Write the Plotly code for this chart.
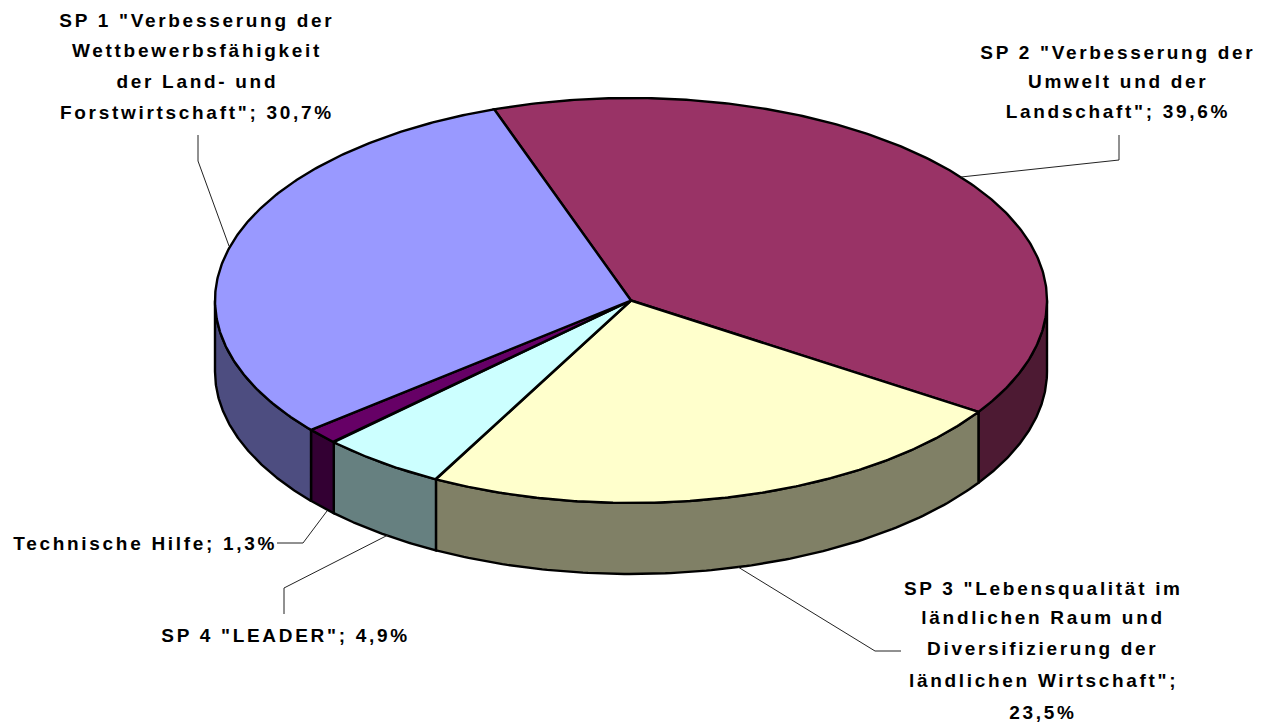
import numpy as np
import plotly.graph_objects as go

# Data (clockwise from the pie's start angle)
categories = ['SP 2', 'SP 3', 'SP 4', 'Technische Hilfe', 'SP 1']
values = [39.6, 23.5, 4.9, 1.3, 30.7]
top_colors = ['#993366', '#FFFFCC', '#CCFFFF', '#660066', '#9999FF']
side_colors = ['#4D1A33', '#808066', '#668080', '#330033', '#4D4D80']

label_lines = [
    ['SP 1 "Verbesserung der', 'Wettbewerbsfähigkeit', 'der Land- und', 'Forstwirtschaft"; 30,7%'],
    ['SP 2 "Verbesserung der', 'Umwelt und der', 'Landschaft"; 39,6%'],
    ['SP 3 "Lebensqualität im', 'ländlichen Raum und', 'Diversifizierung der', 'ländlichen Wirtschaft";', '23,5%'],
    ['Technische Hilfe; 1,3%'],
    ['SP 4 "LEADER"; 4,9%'],
]
label_x = [197, 1118, 1043, 145, 285]
label_y = [[20, 50, 81, 112], [52, 81, 111], [588, 617, 648, 680, 712], [543], [635]]

leaders = [
    ([198, 198, 229], [135, 161, 246]),
    ([1119, 1119, 961], [135, 160, 177]),
    ([738, 875, 901], [567, 651, 651]),
    ([277, 303, 327], [543, 543, 511]),
    ([284, 284, 388], [614, 588, 535]),
]

# Pie projection
CX, CY, RX, RY, DEPTH = 631.0, 300.5, 416.0, 202.5, 71.0
START = -19.2


def ex(t):
    return CX + RX * np.sin(np.radians(t))


def ey(t):
    return CY - RY * np.cos(np.radians(t))


fig = go.Figure()
edges = START + np.cumsum([0] + [v * 3.6 for v in values])
slices = list(zip(edges[:-1], edges[1:], top_colors, side_colors))

for a, b, top, side in slices:
    lo, hi = max(a, 90), min(b, 270)
    if hi <= lo:
        continue
    t = np.linspace(lo, hi, 120)
    xs = np.r_[ex(t), ex(t[::-1]), ex(t[0])]
    ys = np.r_[ey(t), ey(t[::-1]) + DEPTH, ey(t[0])]
    fig.add_trace(go.Scatter(x=xs, y=ys, mode='lines', fill='toself', fillcolor=side,
                             line=dict(color='black', width=2.4), hoverinfo='skip'))

for a, b, top, side in slices:
    t = np.linspace(a, b, 240)
    xs = np.r_[CX, ex(t), CX]
    ys = np.r_[CY, ey(t), CY]
    fig.add_trace(go.Scatter(x=xs, y=ys, mode='lines', fill='toself', fillcolor=top,
                             line=dict(color='black', width=2.4), hoverinfo='skip'))

for lx, ly in leaders:
    fig.add_trace(go.Scatter(x=lx, y=ly, mode='lines', line=dict(color='#222222', width=1),
                             hoverinfo='skip'))

for lines, x, ys in zip(label_lines, label_x, label_y):
    for line, y in zip(lines, ys):
        fig.add_annotation(x=x, y=y, text=f'<b>{line}</b>', showarrow=False,
                           xanchor='center', yanchor='middle',
                           font=dict(family='Liberation Sans', size=19, color='black'))

fig.update_layout(
    width=1268, height=724, autosize=False, showlegend=False,
    margin=dict(l=0, r=0, t=0, b=0),
    paper_bgcolor='white', plot_bgcolor='white',
    xaxis=dict(range=[0, 1268], visible=False, fixedrange=True),
    yaxis=dict(range=[724, 0], visible=False, fixedrange=True),
)
fig.write_html('out.html', config={'displayModeBar': False},
               post_script="document.querySelectorAll('.annotation-text').forEach(function(e){e.style.letterSpacing='2.7px';});document.body.style.margin='0';")
